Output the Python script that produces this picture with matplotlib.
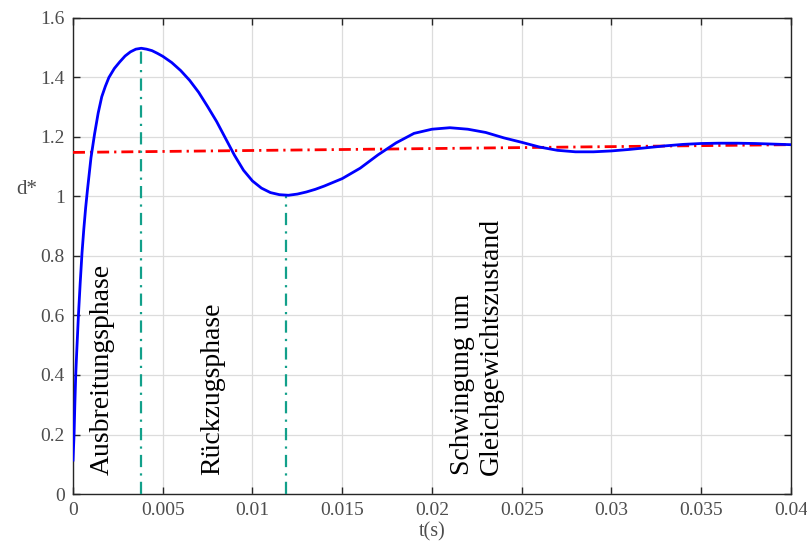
import matplotlib
matplotlib.use("Agg")
import matplotlib.pyplot as plt

# curve
t = [0.0, 0.00003, 0.00006, 0.0001, 0.00015, 0.0002, 0.0003, 0.0004, 0.0005,
     0.0006, 0.0007, 0.0008, 0.0009, 0.001, 0.0011, 0.0012, 0.0014, 0.0016,
     0.0018, 0.002, 0.0023, 0.0026, 0.0029, 0.0032, 0.0035, 0.0038, 0.0041,
     0.0044, 0.0047, 0.005, 0.0055, 0.006, 0.0065, 0.007, 0.0075, 0.008,
     0.0085, 0.009, 0.0095, 0.01, 0.0105, 0.011, 0.0115, 0.012, 0.0125,
     0.013, 0.0135, 0.014, 0.015, 0.016, 0.017, 0.018, 0.019, 0.02, 0.021,
     0.022, 0.023, 0.024, 0.025, 0.026, 0.027, 0.028, 0.029, 0.030, 0.031,
     0.032, 0.033, 0.034, 0.035, 0.036, 0.037, 0.038, 0.039, 0.04]
d = [0.114, 0.16, 0.204, 0.30, 0.40, 0.47, 0.60, 0.71, 0.81,
     0.89, 0.96, 1.02, 1.075, 1.13, 1.17, 1.21, 1.28, 1.335,
     1.37, 1.40, 1.43, 1.452, 1.472, 1.486, 1.495, 1.498, 1.495,
     1.49, 1.481, 1.471, 1.45, 1.423, 1.39, 1.35, 1.302, 1.252,
     1.195, 1.138, 1.088, 1.052, 1.028, 1.013, 1.006, 1.004, 1.008,
     1.015, 1.024, 1.035, 1.06, 1.095, 1.14, 1.18, 1.212, 1.226, 1.231,
     1.226, 1.215, 1.197, 1.182, 1.166, 1.155, 1.150, 1.150, 1.153, 1.158,
     1.164, 1.170, 1.175, 1.178, 1.179, 1.179, 1.178, 1.176, 1.174]

# equilibrium line (ends)
eq_t = [0.0, 0.04]
eq_d = [1.148, 1.174]

# phase boundaries: (t, top value)
phase_t = [0.00377, 0.01187]
phase_top = [1.498, 1.005]

labels = ["Ausbreitungsphase", "Rückzugsphase", "Schwingung um\nGleichgewichtszustand"]
label_t = [0.00164, 0.0078, 0.0225]

plt.rcParams["font.family"] = ["Liberation Serif", "DejaVu Serif"]

fig = plt.figure(figsize=(8.07, 5.43), dpi=100)
ax = fig.add_axes([0.0905, 0.0902, 0.8895, 0.8768])

ax.plot(t, d, color="#0000ff", lw=2.0, zorder=4)
ax.plot(eq_t, eq_d, color="#ff0000", lw=2.0, dashes=(4.3, 1.8, 0.8, 1.8), zorder=3)
for pt, top in zip(phase_t, phase_top):
    ax.plot([pt, pt], [0, top], color="#12a08a", lw=1.6, dashes=(5.5, 2.8, 1.0, 2.8), zorder=3)

for lab, lt in zip(labels, label_t):
    ax.text(lt, 0.064, lab, rotation=90, ha="center", va="bottom",
            multialignment="left", fontsize=20, color="black", linespacing=1.2)

ax.set_xlim(0, 0.04)
ax.set_ylim(0, 1.6)
ax.set_xticks([0, 0.005, 0.01, 0.015, 0.02, 0.025, 0.03, 0.035, 0.04])
ax.set_xticklabels(["0", "0.005", "0.01", "0.015", "0.02", "0.025", "0.03", "0.035", "0.04"])
ax.set_yticks([0, 0.2, 0.4, 0.6, 0.8, 1.0, 1.2, 1.4, 1.6])
ax.set_yticklabels(["0", "0.2", "0.4", "0.6", "0.8", "1", "1.2", "1.4", "1.6"])
ax.grid(True, color="#dcdcdc", lw=0.9)
ax.set_axisbelow(True)
ax.tick_params(direction="in", length=5, width=1, top=True, right=True,
               labelsize=14, labelcolor="#4d4d4d", color="#262626", pad=6)
for s in ax.spines.values():
    s.set_color("#262626")
    s.set_linewidth(1.0)

ax.set_xlabel("t(s)", fontsize=14.5, color="#4d4d4d", labelpad=2)
ax.set_ylabel("d*", fontsize=15, color="#4d4d4d", rotation=0, labelpad=0)
ax.yaxis.set_label_coords(-0.065, 0.62)

fig.savefig("out.png", dpi=100)
